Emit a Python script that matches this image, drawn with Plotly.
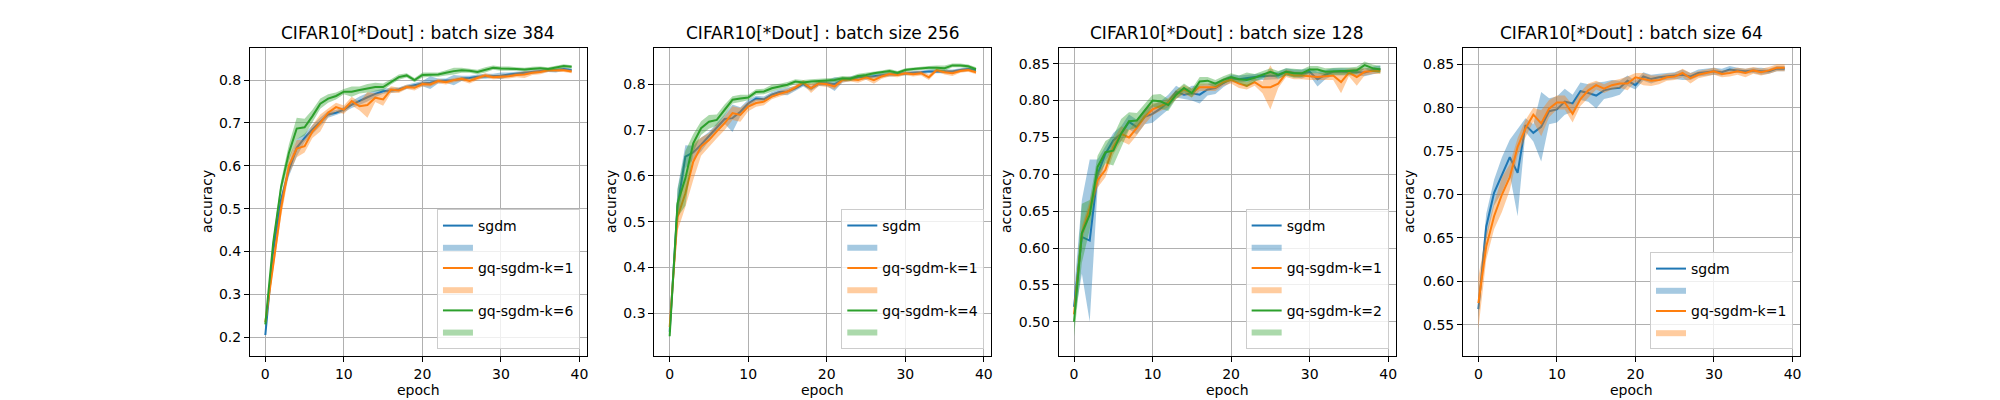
import plotly.graph_objects as go

epochs = list(range(40))

# ---- batch size 384 ----
sgdm_384 = [0.205, 0.40, 0.52, 0.59, 0.642, 0.665, 0.685, 0.703, 0.72, 0.724,
            0.731, 0.743, 0.752, 0.76, 0.768, 0.774, 0.776, 0.778, 0.784, 0.788,
            0.792, 0.794, 0.798, 0.799, 0.80, 0.804, 0.805, 0.808, 0.809, 0.81,
            0.81, 0.813, 0.815, 0.817, 0.819, 0.821, 0.823, 0.823, 0.826, 0.823]
sgdm_384_std = [0.005, 0.01, 0.01, 0.015, 0.02, 0.01, 0.01, 0.01, 0.008, 0.006,
                0.006, 0.008, 0.01, 0.01, 0.008, 0.006, 0.006, 0.005, 0.005, 0.006,
                0.006, 0.015, 0.006, 0.005, 0.012, 0.006, 0.005, 0.005, 0.006, 0.005,
                0.008, 0.005, 0.005, 0.004, 0.004, 0.004, 0.004, 0.005, 0.004, 0.004]
gq1_384 = [0.235, 0.37, 0.50, 0.60, 0.64, 0.646, 0.68, 0.70, 0.724, 0.737,
           0.731, 0.751, 0.739, 0.742, 0.759, 0.755, 0.778, 0.776, 0.784, 0.782,
           0.791, 0.79, 0.798, 0.795, 0.80, 0.803, 0.798, 0.805, 0.811, 0.807,
           0.808, 0.809, 0.812, 0.813, 0.817, 0.819, 0.823, 0.823, 0.823, 0.82]
gq1_384_std = [0.005, 0.02, 0.02, 0.02, 0.02, 0.015, 0.015, 0.02, 0.01, 0.01,
               0.01, 0.01, 0.01, 0.03, 0.01, 0.015, 0.008, 0.006, 0.005, 0.006,
               0.006, 0.005, 0.005, 0.005, 0.005, 0.005, 0.006, 0.005, 0.005, 0.005,
               0.005, 0.005, 0.005, 0.008, 0.005, 0.005, 0.004, 0.004, 0.004, 0.004]
gq6_384 = [0.23, 0.42, 0.55, 0.63, 0.687, 0.69, 0.716, 0.745, 0.757, 0.763,
           0.773, 0.773, 0.777, 0.781, 0.784, 0.784, 0.796, 0.807, 0.811, 0.80,
           0.812, 0.813, 0.813, 0.817, 0.821, 0.823, 0.822, 0.819, 0.824, 0.829,
           0.827, 0.827, 0.826, 0.825, 0.827, 0.828, 0.826, 0.829, 0.833, 0.831]
gq6_384_std = [0.005, 0.01, 0.015, 0.02, 0.025, 0.02, 0.015, 0.012, 0.01, 0.008,
               0.006, 0.012, 0.008, 0.01, 0.01, 0.008, 0.006, 0.006, 0.005, 0.005,
               0.006, 0.005, 0.005, 0.006, 0.008, 0.006, 0.005, 0.005, 0.006, 0.005,
               0.005, 0.005, 0.004, 0.004, 0.004, 0.004, 0.004, 0.005, 0.004, 0.004]

# ---- batch size 256 ----
sgdm_256 = [0.26, 0.533, 0.642, 0.651, 0.668, 0.686, 0.705, 0.724, 0.726, 0.74,
            0.758, 0.769, 0.767, 0.777, 0.783, 0.784, 0.791, 0.80, 0.791, 0.802,
            0.802, 0.80, 0.809, 0.812, 0.815, 0.815, 0.817, 0.82, 0.822, 0.822,
            0.824, 0.825, 0.826, 0.828, 0.828, 0.828, 0.828, 0.831, 0.833, 0.831]
sgdm_256_std = [0.01, 0.04, 0.025, 0.015, 0.015, 0.01, 0.01, 0.01, 0.03, 0.01,
                0.008, 0.006, 0.006, 0.006, 0.006, 0.008, 0.005, 0.005, 0.005, 0.006,
                0.006, 0.015, 0.005, 0.005, 0.005, 0.005, 0.005, 0.005, 0.005, 0.004,
                0.004, 0.004, 0.004, 0.004, 0.004, 0.004, 0.004, 0.004, 0.004, 0.004]
gq1_256 = [0.27, 0.51, 0.562, 0.631, 0.664, 0.678, 0.697, 0.715, 0.737, 0.733,
           0.751, 0.759, 0.762, 0.773, 0.779, 0.784, 0.793, 0.804, 0.791, 0.802,
           0.80, 0.795, 0.809, 0.811, 0.809, 0.815, 0.809, 0.817, 0.822, 0.82,
           0.824, 0.822, 0.824, 0.815, 0.831, 0.826, 0.824, 0.829, 0.831, 0.826]
gq1_256_std = [0.01, 0.03, 0.03, 0.04, 0.02, 0.015, 0.015, 0.015, 0.015, 0.015,
               0.01, 0.008, 0.008, 0.006, 0.006, 0.006, 0.005, 0.005, 0.01, 0.006,
               0.006, 0.006, 0.005, 0.005, 0.006, 0.005, 0.008, 0.005, 0.005, 0.005,
               0.004, 0.005, 0.005, 0.006, 0.004, 0.005, 0.006, 0.004, 0.004, 0.004]
gq4_256 = [0.25, 0.54, 0.595, 0.671, 0.704, 0.718, 0.722, 0.744, 0.766, 0.769,
           0.771, 0.783, 0.784, 0.791, 0.795, 0.799, 0.806, 0.804, 0.806, 0.807,
           0.809, 0.809, 0.813, 0.812, 0.818, 0.82, 0.824, 0.826, 0.829, 0.825,
           0.831, 0.833, 0.835, 0.836, 0.836, 0.835, 0.841, 0.841, 0.839, 0.833]
gq4_256_std = [0.005, 0.03, 0.06, 0.02, 0.015, 0.015, 0.012, 0.012, 0.008, 0.008,
               0.006, 0.006, 0.006, 0.008, 0.006, 0.006, 0.005, 0.005, 0.005, 0.005,
               0.005, 0.005, 0.005, 0.005, 0.005, 0.005, 0.004, 0.004, 0.004, 0.004,
               0.004, 0.004, 0.004, 0.004, 0.005, 0.006, 0.004, 0.004, 0.004, 0.004]

# ---- batch size 128 ----
sgdm_128 = [0.52, 0.615, 0.61, 0.70, 0.728, 0.746, 0.755, 0.771, 0.764, 0.778,
            0.782, 0.789, 0.798, 0.812, 0.808, 0.81, 0.808, 0.815, 0.817, 0.824,
            0.83, 0.829, 0.83, 0.832, 0.833, 0.834, 0.834, 0.839, 0.837, 0.836,
            0.839, 0.829, 0.835, 0.839, 0.839, 0.839, 0.839, 0.838, 0.841, 0.843]
sgdm_128_std = [0.02, 0.05, 0.11, 0.02, 0.01, 0.01, 0.01, 0.01, 0.01, 0.01,
                0.012, 0.01, 0.01, 0.008, 0.006, 0.01, 0.012, 0.008, 0.008, 0.006,
                0.005, 0.005, 0.005, 0.005, 0.005, 0.005, 0.005, 0.005, 0.005, 0.006,
                0.005, 0.01, 0.006, 0.005, 0.005, 0.005, 0.005, 0.005, 0.005, 0.005]
gq1_128 = [0.51, 0.62, 0.654, 0.692, 0.706, 0.737, 0.755, 0.75, 0.763, 0.778,
           0.788, 0.792, 0.797, 0.808, 0.815, 0.81, 0.818, 0.818, 0.818, 0.825,
           0.828, 0.823, 0.82, 0.825, 0.818, 0.818, 0.823, 0.837, 0.834, 0.834,
           0.833, 0.832, 0.833, 0.834, 0.825, 0.838, 0.832, 0.839, 0.84, 0.84]
gq1_128_std = [0.01, 0.01, 0.01, 0.01, 0.01, 0.01, 0.01, 0.01, 0.01, 0.01,
               0.008, 0.006, 0.006, 0.006, 0.006, 0.006, 0.005, 0.005, 0.005, 0.005,
               0.005, 0.006, 0.005, 0.005, 0.008, 0.03, 0.006, 0.005, 0.005, 0.005,
               0.005, 0.005, 0.005, 0.006, 0.015, 0.005, 0.012, 0.005, 0.004, 0.004]
gq2_128 = [0.50, 0.62, 0.645, 0.71, 0.73, 0.732, 0.755, 0.772, 0.773, 0.786,
           0.80, 0.799, 0.794, 0.808, 0.817, 0.81, 0.826, 0.827, 0.823, 0.828,
           0.832, 0.829, 0.828, 0.831, 0.835, 0.839, 0.835, 0.839, 0.837, 0.837,
           0.842, 0.842, 0.839, 0.84, 0.84, 0.84, 0.841, 0.848, 0.844, 0.842]
gq2_128_std = [0.02, 0.04, 0.02, 0.015, 0.015, 0.02, 0.02, 0.012, 0.01, 0.01,
               0.008, 0.01, 0.008, 0.006, 0.006, 0.006, 0.006, 0.005, 0.005, 0.005,
               0.005, 0.005, 0.01, 0.005, 0.005, 0.005, 0.005, 0.005, 0.006, 0.005,
               0.005, 0.005, 0.005, 0.005, 0.005, 0.005, 0.005, 0.005, 0.005, 0.005]

# ---- batch size 64 ----
sgdm_64 = [0.568, 0.663, 0.702, 0.723, 0.743, 0.725, 0.78, 0.771, 0.778, 0.796,
           0.798, 0.807, 0.805, 0.819, 0.817, 0.814, 0.82, 0.822, 0.823, 0.831,
           0.826, 0.836, 0.833, 0.835, 0.836, 0.837, 0.838, 0.836, 0.84, 0.841,
           0.842, 0.841, 0.844, 0.843, 0.842, 0.843, 0.842, 0.842, 0.845, 0.845]
sgdm_64_std = [0.01, 0.015, 0.015, 0.02, 0.02, 0.05, 0.008, 0.01, 0.04, 0.015,
               0.015, 0.015, 0.01, 0.01, 0.01, 0.015, 0.01, 0.01, 0.008, 0.006,
               0.005, 0.005, 0.005, 0.004, 0.004, 0.004, 0.006, 0.004, 0.004, 0.004,
               0.004, 0.004, 0.004, 0.003, 0.003, 0.003, 0.004, 0.003, 0.003, 0.003]
gq1_64 = [0.575, 0.64, 0.675, 0.70, 0.72, 0.755, 0.776, 0.792, 0.782, 0.799,
          0.806, 0.806, 0.793, 0.81, 0.82, 0.826, 0.822, 0.826, 0.828, 0.828,
          0.835, 0.833, 0.831, 0.832, 0.835, 0.836, 0.84, 0.834, 0.838, 0.84,
          0.842, 0.839, 0.84, 0.842, 0.84, 0.843, 0.841, 0.843, 0.846, 0.846]
gq1_64_std = [0.03, 0.015, 0.015, 0.02, 0.015, 0.01, 0.01, 0.008, 0.015, 0.01,
              0.008, 0.008, 0.01, 0.008, 0.008, 0.005, 0.005, 0.005, 0.005, 0.008,
              0.005, 0.007, 0.006, 0.005, 0.004, 0.004, 0.005, 0.006, 0.004, 0.004,
              0.004, 0.004, 0.004, 0.004, 0.005, 0.004, 0.004, 0.004, 0.004, 0.004]

colors = ['#1f77b4', '#ff7f0e', '#2ca02c']
fills = ['rgba(31,119,180,0.4)', 'rgba(255,127,14,0.4)', 'rgba(44,160,44,0.4)']

panels = [
    ('384', [('sgdm', sgdm_384, sgdm_384_std), ('gq-sgdm-k=1', gq1_384, gq1_384_std),
             ('gq-sgdm-k=6', gq6_384, gq6_384_std)], [0.156, 0.875], 0.1, '.1f'),
    ('256', [('sgdm', sgdm_256, sgdm_256_std), ('gq-sgdm-k=1', gq1_256, gq1_256_std),
             ('gq-sgdm-k=4', gq4_256, gq4_256_std)], [0.207, 0.879], 0.1, '.1f'),
    ('128', [('sgdm', sgdm_128, sgdm_128_std), ('gq-sgdm-k=1', gq1_128, gq1_128_std),
             ('gq-sgdm-k=2', gq2_128, gq2_128_std)], [0.4535, 0.8713], 0.05, '.2f'),
    ('64', [('sgdm', sgdm_64, sgdm_64_std), ('gq-sgdm-k=1', gq1_64, gq1_64_std)],
     [0.514, 0.8688], 0.05, '.2f'),
]

font = 'DejaVu Sans, sans-serif'
w = 0.775 / 4.6
ylabel_x = [207, 611, 1006, 1409]

fig = go.Figure()
annotations = []
layout = {}

for i, (bs, series, yrange, dtick, fmt) in enumerate(panels):
    n = '' if i == 0 else str(i + 1)
    x0 = 0.125 + i * 1.2 * w
    x1 = x0 + w
    leg = 'legend' + n

    for j, (name, mean, std) in enumerate(series):
        upper = [m + s for m, s in zip(mean, std)]
        lower = [m - s for m, s in zip(mean, std)]
        fig.add_trace(go.Scatter(x=epochs, y=mean, mode='lines', name=name,
                                 line=dict(color=colors[j], width=2),
                                 xaxis='x' + n, yaxis='y' + n, legend=leg))
        fig.add_trace(go.Scatter(x=epochs + epochs[::-1], y=upper + lower[::-1],
                                 mode='lines', fill='toself', fillcolor=fills[j],
                                 line=dict(width=0), name=' ',
                                 xaxis='x' + n, yaxis='y' + n, legend=leg))

    axis_style = dict(showline=True, mirror=True, linecolor='black', linewidth=1,
                      ticks='outside', ticklen=5, tickcolor='black',
                      showgrid=True, gridcolor='#b0b0b0', gridwidth=1,
                      zeroline=False, tickfont=dict(family=font, size=14, color='black'))
    layout['xaxis' + n] = dict(domain=[x0, x1], range=[-1.95, 40.95], dtick=10,
                               anchor='y' + n, **axis_style)
    layout['yaxis' + n] = dict(domain=[0.11, 0.88], range=yrange, dtick=dtick,
                               tickformat=fmt, anchor='x' + n, **axis_style)
    layout[leg] = dict(x=x1 - 0.0035, y=0.1275, xanchor='right', yanchor='bottom',
                       bgcolor='rgba(255,255,255,0.8)', bordercolor='#cccccc',
                       borderwidth=1, tracegroupgap=0,
                       font=dict(family=font, size=14, color='black'))

    annotations.append(dict(text='CIFAR10[*Dout] : batch size ' + bs, x=(x0 + x1) / 2,
                            y=1 - 33 / 400, xref='paper', yref='paper', showarrow=False,
                            xanchor='center', yanchor='middle',
                            font=dict(family=font, size=17, color='black')))
    annotations.append(dict(text='epoch', x=(x0 + x1) / 2, y=1 - 390 / 400,
                            xref='paper', yref='paper', showarrow=False,
                            xanchor='center', yanchor='middle',
                            font=dict(family=font, size=14, color='black')))
    annotations.append(dict(text='accuracy', x=ylabel_x[i] / 2000, y=0.495,
                            xref='paper', yref='paper', showarrow=False, textangle=-90,
                            xanchor='center', yanchor='middle',
                            font=dict(family=font, size=14, color='black')))

fig.update_layout(width=2000, height=400, margin=dict(l=0, r=0, t=0, b=0),
                  paper_bgcolor='white', plot_bgcolor='white',
                  showlegend=True, annotations=annotations, **layout)

# drop the default 8px page margin so the 2000x400 figure fills the window
fig.write_html("out.html", config={'displayModeBar': False},
               post_script="document.body.style.margin = '0';")
